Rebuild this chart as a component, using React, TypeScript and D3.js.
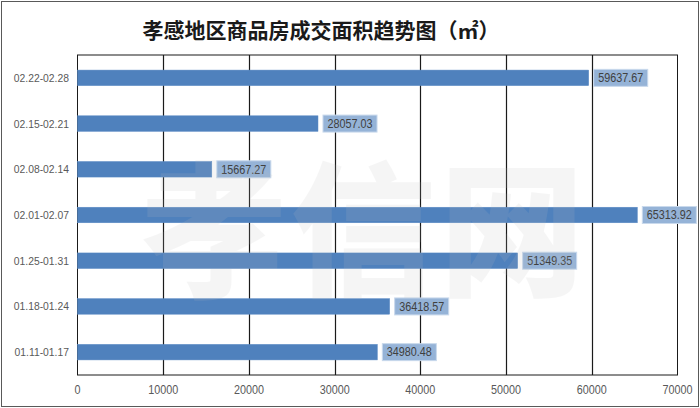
import React from "react";
import * as d3 from "d3";

const categories = ["02.22-02.28", "02.15-02.21", "02.08-02.14", "02.01-02.07", "01.25-01.31", "01.18-01.24", "01.11-01.17"];
const values = [59637.67, 28057.03, 15667.27, 65313.92, 51349.35, 36418.57, 34980.48];
const xTicks = [0, 10000, 20000, 30000, 40000, 50000, 60000, 70000];
const title = "孝感地区商品房成交面积趋势图（㎡）";
const watermark = "孝信网";

const W = 700;
const H = 408;
const plot = { left: 77.5, right: 677.5, top: 55, bottom: 375 };
const font = "'Liberation Sans', Arial, sans-serif";
const SX = 0.9;

function NText(props: { x: number; y: number; size: number; anchor: string; fill: string; children: React.ReactNode }) {
  return (
    <text
      transform={`translate(${props.x},${props.y}) scale(${SX},1)`}
      textAnchor={props.anchor}
      fontFamily={font}
      fontSize={props.size}
      fill={props.fill}
    >
      {props.children}
    </text>
  );
}

function textWidth(s: string, size: number) {
  let w = 0;
  for (const ch of s) w += ch === "." ? 0.278 : ch === "-" ? 0.333 : 0.556;
  return w * size * SX;
}

export default function App() {
  const x = d3.scaleLinear().domain([0, 70000]).range([plot.left, plot.right]);
  const y = d3.scaleBand<string>().domain(categories).range([plot.top, plot.bottom]).paddingInner(0.66).paddingOuter(0.33);
  const bh = y.bandwidth();
  return (
    <svg width={W} height={H} style={{ position: "absolute", left: 0, top: 0, background: "#fff" }}>
      <rect x={1.5} y={1.5} width={W - 3} height={H - 3} fill="#fff" stroke="#595959" strokeWidth={1} />
      <text x={321} y={38} textAnchor="middle" fontFamily="'Noto Sans CJK SC', sans-serif" fontWeight={600} fontSize={21} fill="#1a1a1a">
        {title}
      </text>
      <rect x={plot.left} y={plot.top} width={plot.right - plot.left} height={plot.bottom - plot.top} fill="#fff" stroke="#1a1a1a" strokeWidth={1} />
      {xTicks.slice(1, -1).map((t) => (
        <line key={t} x1={Math.round(x(t)) + 0.5} x2={Math.round(x(t)) + 0.5} y1={plot.top} y2={plot.bottom} stroke="#1a1a1a" strokeWidth={1.2} />
      ))}
      {xTicks.map((t) => (
        <NText key={t} x={x(t)} y={394} anchor="middle" size={12} fill="#595959">
          {t}
        </NText>
      ))}
      {categories.map((c, i) => {
        const yc = (y(c) as number) + bh / 2;
        const xe = x(values[i]);
        const label = values[i].toFixed(2);
        const tw = textWidth(label, 12) + 9;
        return (
          <g key={c}>
            <NText x={69} y={yc + 4} anchor="end" size={11.5} fill="#595959">
              {c}
            </NText>
            <rect x={plot.left} y={y(c)} width={xe - plot.left} height={bh} fill="#4F81BD" stroke="#5a8ac4" strokeWidth={0.5} />
            <rect x={xe + 5} y={yc - 8.5} width={tw} height={17} fill="#95B3D7" stroke="#c9d9ec" strokeWidth={1} />
            <NText x={xe + 5 + tw / 2} y={yc + 4.3} anchor="middle" size={12} fill="#404040">
              {label}
            </NText>
          </g>
        );
      })}
      <text x={365} y={285} textAnchor="middle" fontFamily="'Noto Sans CJK SC', sans-serif" fontWeight={900} fontSize={145} fill="#bebebe" opacity={0.14} letterSpacing={4}>
        {watermark}
      </text>
    </svg>
  );
}
